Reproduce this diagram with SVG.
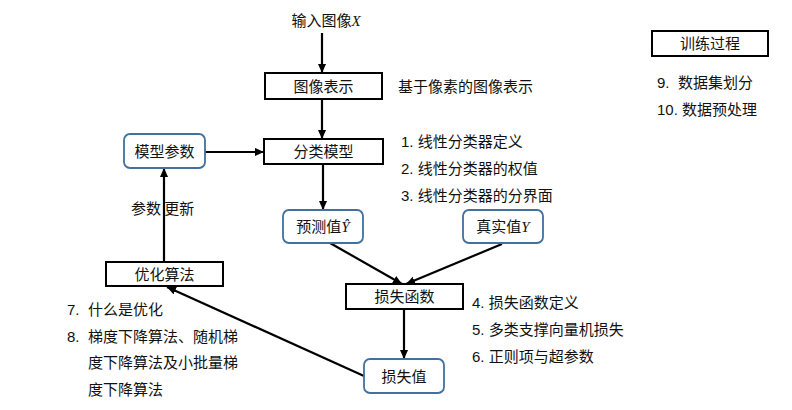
<svg xmlns="http://www.w3.org/2000/svg" width="792" height="410" viewBox="0 0 792 410">
<defs>
<marker id="ah" viewBox="0 0 10 10" refX="10" refY="5" markerWidth="9" markerHeight="9" markerUnits="userSpaceOnUse" orient="auto">
<path d="M0,0.5 L10,5 L0,9.5 Z" fill="#000"/>
</marker>
<style>
.t{font-family:"Noto Sans CJK SC","Liberation Sans",sans-serif;font-size:15px;fill:#111;}
.l{font-family:"Liberation Sans","Noto Sans CJK SC",sans-serif;font-size:15px;fill:#111;}
.v{font-family:"Liberation Serif",serif;font-style:italic;}
.box{fill:#fff;stroke:#000;stroke-width:2;}
.rbox{fill:#fff;stroke:#41719c;stroke-width:1.8;}
.c{stroke:#000;stroke-width:2.2;fill:none;marker-end:url(#ah);}
</style>
</defs>
<rect width="792" height="410" fill="#fff"/>
<g id="connectors">
<line class="c" x1="322" y1="33" x2="322" y2="73"/>
<line class="c" x1="322" y1="99" x2="322" y2="139"/>
<line class="c" x1="205" y1="152" x2="264" y2="152"/>
<line class="c" x1="323" y1="164" x2="323" y2="210"/>
<line class="c" x1="330" y1="243" x2="402" y2="284"/>
<line class="c" x1="502" y1="244" x2="406" y2="284"/>
<line class="c" x1="404" y1="309" x2="404" y2="359"/>
<line class="c" x1="364" y1="376" x2="167" y2="287"/>
<line class="c" x1="164" y1="262" x2="164" y2="168"/>
</g>
<g id="input"><text class="t" x="326" y="26" text-anchor="middle">输入图像<tspan class="v">X</tspan></text></g>
<g id="image-repr">
<rect class="box" x="265" y="73" width="117" height="26"/>
<text class="t" x="323.5" y="91.5" text-anchor="middle">图像表示</text>
</g>
<text class="t" x="398" y="91.5">基于像素的图像表示</text>
<g id="classifier">
<rect class="box" x="264" y="139" width="119" height="25"/>
<text class="t" x="323.5" y="157" text-anchor="middle">分类模型</text>
</g>
<g id="model-params">
<rect class="rbox" x="124" y="134" width="81" height="34" rx="6"/>
<text class="t" x="164.5" y="156.5" text-anchor="middle">模型参数</text>
</g>
<text class="t" x="131" y="213.5">参数 更新</text>
<g id="prediction">
<rect class="rbox" x="283" y="210" width="80" height="33" rx="6"/>
<text class="t" x="323" y="232" text-anchor="middle">预测值<tspan class="v">Ŷ</tspan></text>
</g>
<g id="truth">
<rect class="rbox" x="463" y="210" width="80" height="33" rx="6"/>
<text class="t" x="503" y="232" text-anchor="middle">真实值<tspan class="v">Y</tspan></text>
</g>
<g id="loss-fn">
<rect class="box" x="346" y="284" width="117" height="25"/>
<text class="t" x="404.5" y="302" text-anchor="middle">损失函数</text>
</g>
<g id="loss-val">
<rect class="rbox" x="364" y="359" width="80" height="34" rx="6"/>
<text class="t" x="404" y="381.5" text-anchor="middle">损失值</text>
</g>
<g id="optimizer">
<rect class="box" x="106" y="262" width="117" height="24"/>
<text class="t" x="164.5" y="279.5" text-anchor="middle">优化算法</text>
</g>
<g id="training">
<rect class="box" x="652" y="31" width="116" height="25"/>
<text class="t" x="710" y="49" text-anchor="middle">训练过程</text>
</g>
<g id="notes">
<text class="l" x="401" y="146.5">1. 线性分类器定义</text>
<text class="l" x="401" y="174">2. 线性分类器的权值</text>
<text class="l" x="401" y="201">3. 线性分类器的分界面</text>
<text class="l" x="472" y="308">4. 损失函数定义</text>
<text class="l" x="472" y="335">5. 多类支撑向量机损失</text>
<text class="l" x="472" y="362">6. 正则项与超参数</text>
<text class="l" x="67" y="315">7.</text>
<text class="l" x="88" y="315">什么是优化</text>
<text class="l" x="67" y="342">8.</text>
<text class="l" x="88" y="342">梯度下降算法、随机梯</text>
<text class="l" x="88" y="368">度下降算法及小批量梯</text>
<text class="l" x="88" y="395">度下降算法</text>
<text class="l" x="657" y="88">9.</text>
<text class="l" x="678" y="88">数据集划分</text>
<text class="l" x="657" y="115">10. 数据预处理</text>
</g>
</svg>
